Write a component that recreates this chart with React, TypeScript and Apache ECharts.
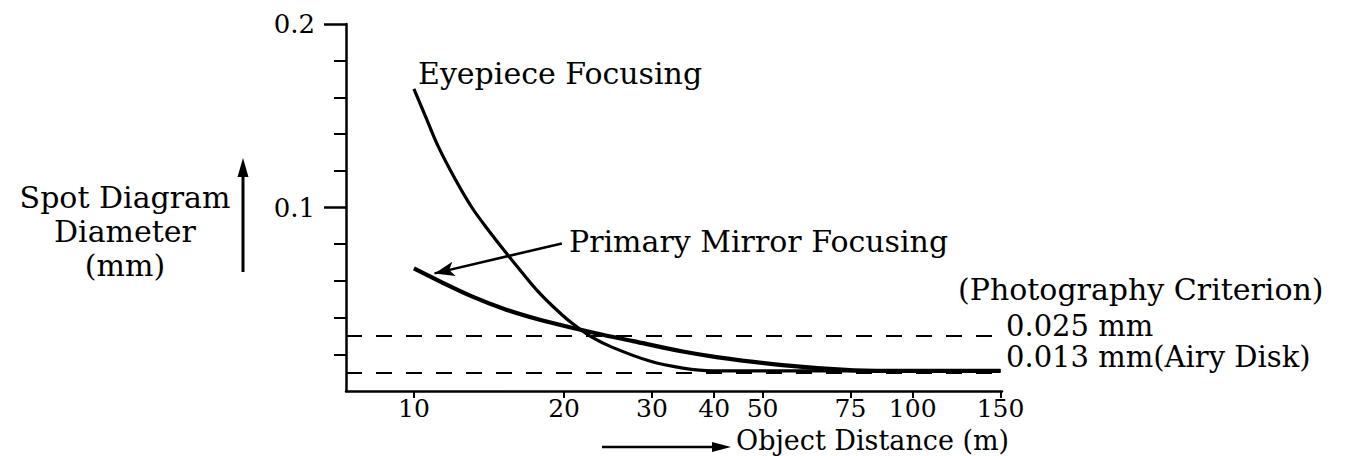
import React, { useEffect, useRef } from "react";
import * as echarts from "echarts";

// ---- data ----
const xTicks = [10, 20, 30, 40, 50, 75, 100, 150];
const yTicks = [0.1, 0.2];

const eyepieceDistance = [10, 10.52, 11.17, 12.08, 13.07, 14.07, 15.22, 16.46, 17.73, 19.17, 20.73, 22.74, 24.94, 29.7, 34.6, 39.7, 45, 60, 100, 150];
const eyepieceDiameter = [0.1647, 0.1505, 0.1337, 0.1158, 0.1, 0.088, 0.0761, 0.0647, 0.0543, 0.0451, 0.037, 0.0293, 0.0239, 0.0163, 0.0125, 0.011, 0.011, 0.011, 0.011, 0.011];

const primaryDistance = [10, 11.17, 13.07, 15.22, 17.73, 20.73, 24.14, 27.5, 34.6, 40.4, 54.8, 74.8, 94.3, 120, 150];
const primaryDiameter = [0.0668, 0.0603, 0.0516, 0.0446, 0.0391, 0.0345, 0.0304, 0.0272, 0.0215, 0.0185, 0.0141, 0.0114, 0.011, 0.011, 0.011];

const criterionLevels = [0.0275, 0.0145];
const arrowFrom = [19.8, 0.0804];
const arrowTo = [11.0, 0.0641];

const FONT = "DejaVu Serif";

export default function App() {
  const ref = useRef<HTMLDivElement>(null);
  useEffect(() => {
    if (!ref.current) return;
    const chart = echarts.init(ref.current, null, { renderer: "svg" });
    const zip = (xs: number[], ys: number[]) => xs.map((x, i) => [x, ys[i]]);
    const txt = (x: number, y: number, text: string, size: number, align = "left") => ({
      type: "text",
      x,
      y,
      style: { text, fontSize: size, lineHeight: size, fontFamily: FONT, fill: "#000", align, verticalAlign: "middle" },
    });
    chart.setOption({
      animation: false,
      backgroundColor: "#fff",
      textStyle: { fontFamily: FONT, color: "#000" },
      grid: { left: 346, right: 353, top: 24, bottom: 65 },
      xAxis: {
        type: "log",
        logBase: 10,
        min: 7.31,
        max: 151,
        axisLine: { show: true, onZero: false, lineStyle: { color: "#000", width: 2.5 } },
        axisTick: { show: true, customValues: xTicks, length: 7, lineStyle: { color: "#000", width: 2 } },
        axisLabel: {
          customValues: xTicks,
          formatter: (v: number) => String(v),
          fontSize: 25,
          lineHeight: 25,
          fontFamily: FONT,
          color: "#000",
          margin: 5,
        },
        splitLine: { show: false },
        minorTick: { show: false },
        minorSplitLine: { show: false },
      },
      yAxis: {
        type: "value",
        min: 0,
        max: 0.2,
        interval: 0.1,
        axisLine: { show: true, onZero: false, lineStyle: { color: "#000", width: 2.5 } },
        axisTick: { show: true, customValues: yTicks, length: 22, lineStyle: { color: "#000", width: 2.5 } },
        minorTick: { show: true, splitNumber: 5, length: 12, lineStyle: { color: "#000", width: 2 } },
        axisLabel: {
          customValues: yTicks,
          formatter: (v: number) => String(v),
          fontSize: 26,
          fontFamily: FONT,
          color: "#000",
          margin: 31,
        },
        splitLine: { show: false },
        minorSplitLine: { show: false },
      },
      series: [
        {
          name: "Eyepiece Focusing",
          type: "line",
          data: zip(eyepieceDistance, eyepieceDiameter),
          symbol: "none",
          smooth: 0.3,
          lineStyle: { color: "#000", width: 3.2 },
          silent: true,
          markLine: {
            silent: true,
            symbol: "none",
            label: { show: false },
            lineStyle: { color: "#000", width: 1.8, type: [16, 14] },
            data: criterionLevels.map((v) => ({ yAxis: v })),
          },
        },
        {
          name: "Primary Mirror Focusing",
          type: "line",
          data: zip(primaryDistance, primaryDiameter),
          symbol: "none",
          smooth: 0.3,
          lineStyle: { color: "#000", width: 4.2 },
          silent: true,
          markLine: {
            silent: true,
            symbol: ["none", "arrow"],
            symbolSize: [11, 20],
            label: { show: false },
            lineStyle: { color: "#000", width: 2.5, type: "solid" },
            itemStyle: { color: "#000" },
            data: [[{ coord: arrowFrom }, { coord: arrowTo }]],
          },
        },
      ],
      graphic: [
        txt(418, 73, "Eyepiece Focusing", 30),
        txt(569, 241, "Primary Mirror Focusing", 30),
        txt(958, 289, "(Photography Criterion)", 30),
        txt(1006, 326, "0.025 mm", 29),
        txt(1006, 357, "0.013 mm(Airy Disk)", 29),
        {
          type: "text",
          x: 125,
          y: 231,
          style: {
            text: "Spot Diagram\nDiameter\n(mm)",
            fontSize: 30,
            lineHeight: 34,
            fontFamily: FONT,
            fill: "#000",
            align: "center",
            verticalAlign: "middle",
          },
        },
        txt(736, 440.5, "Object Distance (m)", 27),
        { type: "line", shape: { x1: 243, y1: 272, x2: 243, y2: 172 }, style: { stroke: "#000", lineWidth: 3 } },
        { type: "polygon", shape: { points: [[243, 158], [237.5, 177], [248.5, 177]] }, style: { fill: "#000" } },
        { type: "line", shape: { x1: 602, y1: 447, x2: 716, y2: 447 }, style: { stroke: "#000", lineWidth: 2.5 } },
        { type: "polygon", shape: { points: [[731, 447], [712, 442], [712, 452]] }, style: { fill: "#000" } },
      ],
    });
    return () => chart.dispose();
  }, []);
  return <div ref={ref} style={{ position: "fixed", left: 0, top: 0, width: 1355, height: 456 }} />;
}
